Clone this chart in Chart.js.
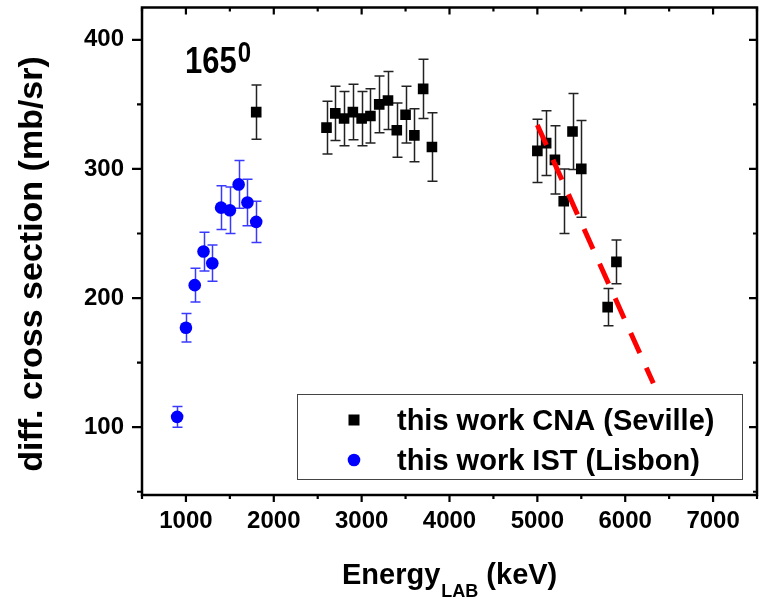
<!DOCTYPE html>
<html><head><meta charset="utf-8">
<script src="https://cdn.jsdelivr.net/npm/chart.js@4/dist/chart.umd.min.js"></script>
<style>html,body{margin:0;padding:0;background:#fff;overflow:hidden}canvas{display:block}</style>
</head><body>
<canvas id="c" width="769" height="599"></canvas>
<script>
// ---- data ----
const seriesLabels = ['this work CNA (Seville)', 'this work IST (Lisbon)'];
const cnaEnergy = [1800, 2600, 2700, 2800, 2900, 3000, 3100, 3200, 3300, 3400, 3500, 3600, 3700, 3800, 5000, 5100, 5200, 5300, 5400, 5500, 5800, 5900];
const cnaXS     = [344, 332, 343, 339, 344, 339, 341, 350, 353, 330, 342, 326, 362, 317, 314, 320, 307, 275, 329, 300, 193, 228];
const cnaErr    = [21, 20.5, 21, 21, 21.5, 21, 21, 22, 22.5, 21, 22, 20.5, 23, 26.5, 24.5, 25, 26.5, 25, 29.5, 37.5, 14.5, 17];
const istEnergy = [900, 1000, 1100, 1200, 1300, 1400, 1500, 1600, 1700, 1800];
const istXS     = [108, 177, 210, 236, 227, 270, 268, 288, 274, 259];
const istErr    = [8, 11, 13, 15, 14, 17, 18, 18.5, 18, 16];
const fitEnergy = [5000, 6320];
const fitXS     = [334, 134];
const xMajorTicks = [1000, 2000, 3000, 4000, 5000, 6000, 7000];
const xMinorTicks = [500, 1500, 2500, 3500, 4500, 5500, 6500, 7500];
const yMajorTicks = [100, 200, 300, 400];
const yMinorTicks = [50, 150, 250, 350];
const angleLabel = '165';
const angleSup = '0';
const xTitleMain = 'Energy';
const xTitleSub = 'LAB';
const xTitleUnit = '(keV)';
const yTitle = 'diff. cross section (mb/sr)';

const FONT = '"Liberation Sans", Arial, Helvetica, sans-serif';

const errorBars = {
  id: 'errorBars',
  beforeDatasetsDraw(chart) {
    const {ctx, scales: {x, y}} = chart;
    const draw = (xs, ys, es, color) => {
      ctx.save();
      ctx.strokeStyle = color;
      ctx.lineWidth = 1.5;
      xs.forEach((xv, i) => {
        const px = Math.round(x.getPixelForValue(xv)) + 0.5;
        const t = y.getPixelForValue(ys[i] + es[i]);
        const b = y.getPixelForValue(ys[i] - es[i]);
        ctx.beginPath();
        ctx.moveTo(px, t); ctx.lineTo(px, b);
        ctx.moveTo(px - 5, t); ctx.lineTo(px + 5, t);
        ctx.moveTo(px - 5, b); ctx.lineTo(px + 5, b);
        ctx.stroke();
      });
      ctx.restore();
    };
    draw(cnaEnergy, cnaXS, cnaErr, '#222');
    draw(istEnergy, istXS, istErr, '#3a3aff');
  }
};

const decor = {
  id: 'decor',
  afterDraw(chart) {
    const {ctx, chartArea: {left, right, top, bottom}, scales: {x, y}} = chart;
    ctx.save();
    ctx.strokeStyle = '#000';
    // ticks
    ctx.lineWidth = 2.2;
    ctx.beginPath();
    xMajorTicks.forEach(v => {
      const p = x.getPixelForValue(v);
      ctx.moveTo(p, bottom); ctx.lineTo(p, bottom + 7);
      ctx.moveTo(p, top); ctx.lineTo(p, top + 7);
    });
    xMinorTicks.forEach(v => {
      const p = x.getPixelForValue(v);
      ctx.moveTo(p, bottom); ctx.lineTo(p, bottom + 4);
      ctx.moveTo(p, top); ctx.lineTo(p, top + 4);
    });
    yMajorTicks.forEach(v => {
      const p = y.getPixelForValue(v);
      ctx.moveTo(left - 10, p); ctx.lineTo(left, p);
      ctx.moveTo(right - 8, p); ctx.lineTo(right, p);
    });
    yMinorTicks.forEach(v => {
      const p = y.getPixelForValue(v);
      ctx.moveTo(left - 5, p); ctx.lineTo(left, p);
      ctx.moveTo(right - 4, p); ctx.lineTo(right, p);
    });
    ctx.stroke();
    // frame
    ctx.lineWidth = 2.5;
    ctx.strokeRect(left, top, right - left, bottom - top);

    // angle annotation (slightly tall glyphs as in the reference)
    ctx.fillStyle = '#000';
    ctx.textBaseline = 'alphabetic';
    ctx.textAlign = 'left';
    ctx.font = 'bold 31px ' + FONT;
    const aw = ctx.measureText(angleLabel).width;
    ctx.save();
    ctx.translate(185, 73);
    ctx.scale(1, 1.2);
    ctx.fillText(angleLabel, 0, 0);
    ctx.restore();
    ctx.font = 'bold 24px ' + FONT;
    ctx.save();
    ctx.translate(185 + aw + 1, 62);
    ctx.scale(1, 1.2);
    ctx.fillText(angleSup, 0, 0);
    ctx.restore();

    // legend
    ctx.lineWidth = 1;
    ctx.strokeStyle = '#444';
    ctx.strokeRect(297.5, 394.5, 445, 85);
    ctx.fillStyle = '#000';
    ctx.fillRect(354 - 5.5, 420 - 5.5, 11, 11);
    ctx.fillStyle = '#0000ff';
    ctx.beginPath(); ctx.arc(354, 460, 6.3, 0, Math.PI * 2); ctx.fill();
    ctx.fillStyle = '#000';
    ctx.font = 'bold 29px ' + FONT;
    ctx.fillText(seriesLabels[0], 397, 430);
    ctx.fillText(seriesLabels[1], 397, 470);

    // x title
    ctx.font = 'bold 29px ' + FONT;
    let xx = 342;
    ctx.fillText(xTitleMain, xx, 584);
    xx += ctx.measureText(xTitleMain).width + 1;
    ctx.font = 'bold 18px ' + FONT;
    ctx.fillText(xTitleSub, xx, 597);
    xx += ctx.measureText(xTitleSub).width;
    ctx.font = 'bold 29px ' + FONT;
    xx += ctx.measureText(' ').width;
    ctx.fillText(xTitleUnit, xx, 584);

    // y title
    ctx.save();
    ctx.translate(42, 264);
    ctx.rotate(-Math.PI / 2);
    ctx.textAlign = 'center';
    ctx.font = 'bold 34px ' + FONT;
    ctx.fillText(yTitle, 0, 0);
    ctx.restore();

    ctx.restore();
  }
};

new Chart(document.getElementById('c'), {
  type: 'scatter',
  data: {
    datasets: [
      {
        label: 'fit',
        type: 'line',
        data: fitEnergy.map((e, i) => ({x: e, y: fitXS[i]})),
        borderColor: '#ff0000',
        borderWidth: 5,
        borderDash: [22, 16],
        pointRadius: 0,
        fill: false,
        order: 0
      },
      {
        label: seriesLabels[0],
        data: cnaEnergy.map((e, i) => ({x: e, y: cnaXS[i]})),
        pointStyle: 'rect',
        pointRadius: 7.5,
        pointHoverRadius: 7.5,
        backgroundColor: '#000',
        borderColor: '#000',
        borderWidth: 0,
        showLine: false,
        order: 1
      },
      {
        label: seriesLabels[1],
        data: istEnergy.map((e, i) => ({x: e, y: istXS[i]})),
        pointStyle: 'circle',
        pointRadius: 6.3,
        pointHoverRadius: 6.3,
        backgroundColor: '#0000ff',
        borderColor: '#0000ff',
        borderWidth: 0,
        showLine: false,
        order: 2
      }
    ]
  },
  options: {
    responsive: false,
    animation: false,
    devicePixelRatio: 1,
    layout: {padding: {top: 7, right: 12, left: 0, bottom: 0}},
    plugins: {legend: {display: false}, tooltip: {enabled: false}},
    scales: {
      x: {
        type: 'linear',
        min: 500, max: 7500,
        afterBuildTicks: s => { s.ticks = xMajorTicks.map(v => ({value: v})); },
        afterFit: s => { s.height = 104; s.paddingLeft = 0; s.paddingRight = 0; s.paddingTop = 0; s.paddingBottom = 0; },
        grid: {display: false, drawTicks: false},
        border: {display: false},
        ticks: {
          padding: 12,
          color: '#000',
          font: {family: FONT, size: 24, weight: 'bold'},
          callback: v => String(v),
          maxRotation: 0, autoSkip: false
        },
        title: {display: false}
      },
      y: {
        type: 'linear',
        min: 47.5, max: 425,
        afterBuildTicks: s => { s.ticks = yMajorTicks.map(v => ({value: v})); },
        afterFit: s => { s.width = 142; s.paddingLeft = 0; s.paddingRight = 0; s.paddingTop = 0; s.paddingBottom = 0; },
        grid: {display: false, drawTicks: false},
        border: {display: false},
        ticks: {
          padding: 18,
          color: '#000',
          font: {family: FONT, size: 24, weight: 'bold'},
          callback: v => String(v),
          autoSkip: false
        },
        title: {display: false}
      }
    }
  },
  plugins: [errorBars, decor]
});
</script>
</body></html>
